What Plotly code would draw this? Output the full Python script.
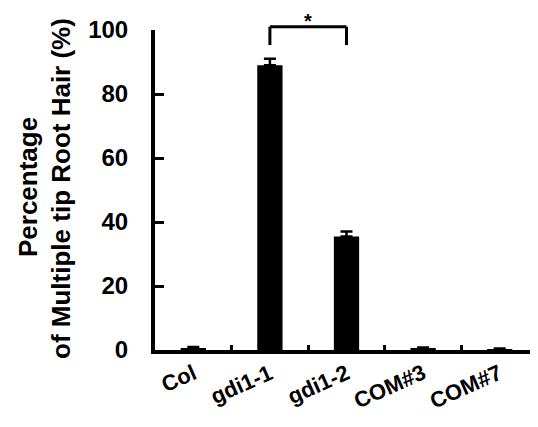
import plotly.graph_objects as go

categories = ["Col", "gdi1-1", "gdi1-2", "COM#3", "COM#7"]
tick_labels = ["Col", "gdi1-1", "gdi1-2", "COM#3", "COM#7"]
values = [0.6, 89.0, 35.5, 0.5, 0.3]
errors = [0.3, 2.0, 1.5, 0.3, 0.2]
y_ticks = [0, 20, 40, 60, 80, 100]
y_max = 100

# significance bracket between gdi1-1 and gdi1-2
sig_pair = ["gdi1-1", "gdi1-2"]
sig_top = 101.0
sig_leg = 95.3
sig_label = "*"
sig_label_y = 106.8

FONT = "Liberation Sans, Arial, sans-serif"

fig = go.Figure()
fig.add_trace(go.Bar(
    x=categories, y=values,
    width=0.33,
    marker=dict(color="black", line=dict(width=0)),
    error_y=dict(type="data", array=errors, arrayminus=[0]*len(errors),
                 color="black", thickness=2.5, width=6),
    showlegend=False,
))

i0 = categories.index(sig_pair[0])
i1 = categories.index(sig_pair[1])
line_style = dict(color="black", width=3)
fig.add_shape(type="line", xref="x", yref="paper", x0=i0, x1=i1,
              y0=sig_top / y_max, y1=sig_top / y_max, line=line_style)
fig.add_shape(type="line", xref="x", yref="paper", x0=i0, x1=i0,
              y0=sig_leg / y_max, y1=sig_top / y_max, line=line_style)
fig.add_shape(type="line", xref="x", yref="paper", x0=i1, x1=i1,
              y0=sig_leg / y_max, y1=sig_top / y_max, line=line_style)
fig.add_annotation(x=(i0 + i1) / 2, y=sig_label_y / y_max, xref="x", yref="paper",
                   text="<b>" + sig_label + "</b>", showarrow=False,
                   font=dict(family=FONT, size=20, color="black"), yanchor="top")

# rotated category labels
for cat, lab in zip(categories, tick_labels):
    fig.add_annotation(x=cat, y=0, xref="x", yref="paper",
                       text="<b>" + lab + "</b>", textangle=-24, showarrow=False,
                       xanchor="right", yanchor="top", xshift=9, yshift=-7,
                       font=dict(family=FONT, size=22, color="black"))

# Y axis title (two lines)
fig.add_annotation(x=-0.331, y=0.51, xref="paper", yref="paper",
                   text="<b>Percentage</b>", textangle=-90, showarrow=False,
                   font=dict(family=FONT, size=26, color="black"),
                   xanchor="center", yanchor="middle")
fig.add_annotation(x=-0.244, y=0.505, xref="paper", yref="paper",
                   text="<b>of Multiple tip Root Hair (%)</b>", textangle=-90, showarrow=False,
                   font=dict(family=FONT, size=26, color="black"),
                   xanchor="center", yanchor="middle")

fig.update_layout(
    width=530, height=419, autosize=False,
    margin=dict(l=147, r=0, t=22, b=77),
    plot_bgcolor="white", paper_bgcolor="white",
    bargap=0.67,
)
fig.update_xaxes(
    type="category", categoryorder="array", categoryarray=categories,
    showticklabels=False,
    showline=True, linecolor="black", linewidth=4,
    ticks="inside", tickson="boundaries", ticklen=5, tickwidth=3, tickcolor="black",
    showgrid=False, zeroline=False, range=[-0.5, 4.5], automargin=False,
)
fig.update_yaxes(
    range=[0, y_max], tickvals=y_ticks, ticktext=["<b>%d</b>" % v for v in y_ticks],
    tickfont=dict(family=FONT, size=24, color="black"),
    showline=True, linecolor="black", linewidth=4,
    ticks="inside", ticklen=9, tickwidth=3, tickcolor="black",
    ticklabelstandoff=18, automargin=False,
    showgrid=False, zeroline=False,
)

fig.write_html("out.html")
